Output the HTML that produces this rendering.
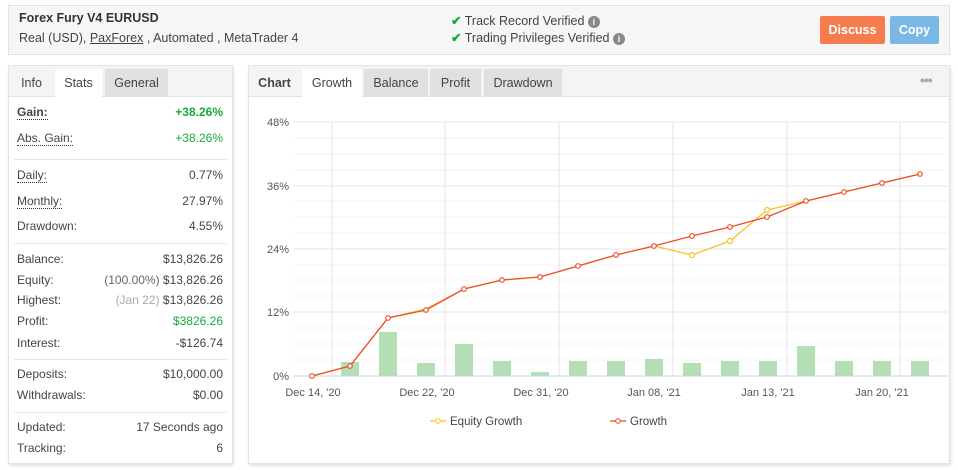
<!DOCTYPE html>
<html><head><meta charset="utf-8"><style>
*{box-sizing:border-box;margin:0;padding:0}
body{width:958px;height:470px;background:#fff;font-family:"Liberation Sans",sans-serif;font-size:12px;color:#333;position:relative;overflow:hidden}
.a{position:absolute}
.box{position:absolute;border:1px solid #e3e3e3}
.tab{position:absolute;top:69px;height:28px;line-height:28px;text-align:center;font-size:12.5px;color:#444}
.row{position:absolute;left:17px;width:206px;font-size:12px;color:#444}
.row .v{position:absolute;right:0;top:0}
.u{border-bottom:1px dotted #333}
.sep{position:absolute;left:14px;width:213px;height:1px;background:#e5e5e5}
.g{color:#1aaa3c}
</style></head><body>
<div class="box" style="left:8px;top:5px;width:942px;height:50px;background:#f6f6f6"></div>
<div class="a" style="left:19px;top:11px;font-weight:bold;font-size:12.5px;color:#333">Forex Fury V4 EURUSD</div>
<div class="a" style="left:19px;top:31px;font-size:12.5px;color:#444">Real (USD), <span style="text-decoration:underline">PaxForex</span> , Automated , MetaTrader 4</div>
<div class="a" style="left:451px;top:13px;font-size:12.5px;color:#444"><span style="color:#1aaa3c;font-weight:bold">✔</span> Track Record Verified <span style="display:inline-block;width:12px;height:12px;border-radius:6px;background:#888;color:#fff;font-size:9px;line-height:12px;text-align:center;font-weight:bold">i</span></div>
<div class="a" style="left:451px;top:30px;font-size:12.5px;color:#444"><span style="color:#1aaa3c;font-weight:bold">✔</span> Trading Privileges Verified <span style="display:inline-block;width:12px;height:12px;border-radius:6px;background:#888;color:#fff;font-size:9px;line-height:12px;text-align:center;font-weight:bold">i</span></div>
<div class="a" style="left:820px;top:16px;width:65px;height:28px;background:#f47c4e;color:#fff;font-weight:bold;line-height:28px;text-align:center;font-size:12.5px;border-radius:2px">Discuss</div>
<div class="a" style="left:890px;top:16px;width:49px;height:28px;background:#7ab9e6;color:#fff;font-weight:bold;line-height:28px;text-align:center;font-size:12.5px;border-radius:2px">Copy</div>

<div class="box" style="left:8px;top:65px;width:225px;height:399px;box-shadow:1px 2px 3px rgba(0,0,0,.12)"></div>
<div class="a" style="left:9px;top:66px;width:223px;height:31px;background:#f4f4f4;border-bottom:1px solid #e3e3e3"></div>
<div class="tab" style="left:9px;width:45px">Info</div>
<div class="tab" style="left:55px;width:47px;background:#fff;height:29px">Stats</div>
<div class="tab" style="left:105px;width:63px;background:#e0e0e0">General</div>
<div class="row" style="top:105px"><b class="u">Gain:</b><span class="v g" style="font-weight:bold">+38.26%</span></div>
<div class="row" style="top:131px"><span class="u">Abs. Gain:</span><span class="v g">+38.26%</span></div>
<div class="sep" style="top:159px"></div>
<div class="row" style="top:168px"><span class="u">Daily:</span><span class="v">0.77%</span></div>
<div class="row" style="top:194px"><span class="u">Monthly:</span><span class="v">27.97%</span></div>
<div class="row" style="top:219px">Drawdown:<span class="v">4.55%</span></div>
<div class="sep" style="top:243px"></div>
<div class="row" style="top:252px">Balance:<span class="v">$13,826.26</span></div>
<div class="row" style="top:273px">Equity:<span class="v"><span style="color:#666">(100.00%)</span> $13,826.26</span></div>
<div class="row" style="top:293px">Highest:<span class="v"><span style="color:#aaa">(Jan 22)</span> $13,826.26</span></div>
<div class="row" style="top:314px">Profit:<span class="v g">$3826.26</span></div>
<div class="row" style="top:336px">Interest:<span class="v">-$126.74</span></div>
<div class="sep" style="top:359px"></div>
<div class="row" style="top:367px">Deposits:<span class="v">$10,000.00</span></div>
<div class="row" style="top:388px">Withdrawals:<span class="v">$0.00</span></div>
<div class="sep" style="top:412px"></div>
<div class="row" style="top:420px">Updated:<span class="v">17 Seconds ago</span></div>
<div class="row" style="top:441px">Tracking:<span class="v">6</span></div>

<div class="box" style="left:248px;top:65px;width:702px;height:399px;box-shadow:1px 2px 3px rgba(0,0,0,.12)"></div>
<div class="a" style="left:249px;top:66px;width:700px;height:31px;background:#f4f4f4;border-bottom:1px solid #e3e3e3"></div>
<div class="tab" style="left:249px;width:51px;font-weight:bold">Chart</div>
<div class="tab" style="left:302px;width:60px;background:#fff;height:29px">Growth</div>
<div class="tab" style="left:364px;width:64px;background:#e0e0e0">Balance</div>
<div class="tab" style="left:430px;width:51px;background:#e0e0e0">Profit</div>
<div class="tab" style="left:484px;width:78px;background:#e0e0e0">Drawdown</div>
<div class="a" style="left:920px;top:72px;color:#aaa;font-size:14px;font-weight:bold;letter-spacing:-1px">•••</div>

<svg class="a" style="left:0;top:0" width="958" height="470" font-family="Liberation Sans,sans-serif">
<g stroke="#f3f3f3">
<line x1="293" x2="948" y1="138" y2="138"/><line x1="293" x2="948" y1="154" y2="154"/><line x1="293" x2="948" y1="170" y2="170"/>
<line x1="293" x2="948" y1="201" y2="201"/><line x1="293" x2="948" y1="217" y2="217"/><line x1="293" x2="948" y1="233" y2="233"/>
<line x1="293" x2="948" y1="265" y2="265"/><line x1="293" x2="948" y1="280" y2="280"/><line x1="293" x2="948" y1="296" y2="296"/>
<line x1="293" x2="948" y1="328" y2="328"/><line x1="293" x2="948" y1="344" y2="344"/><line x1="293" x2="948" y1="360" y2="360"/>
</g>
<g stroke="#e4e4e4">
<line x1="293" x2="948" y1="122" y2="122"/><line x1="293" x2="948" y1="186" y2="186"/><line x1="293" x2="948" y1="249" y2="249"/><line x1="293" x2="948" y1="312" y2="312"/>
<line x1="332" x2="332" y1="122" y2="376"/><line x1="445" x2="445" y1="122" y2="376"/><line x1="559" x2="559" y1="122" y2="376"/><line x1="673" x2="673" y1="122" y2="376"/><line x1="787" x2="787" y1="122" y2="376"/><line x1="900" x2="900" y1="122" y2="376"/>
</g>
<g fill="#b4dfb5">
<rect x="341" y="362" width="18" height="14"/><rect x="379" y="332" width="18" height="44"/><rect x="417" y="363" width="18" height="13"/><rect x="455" y="344" width="18" height="32"/><rect x="493" y="361" width="18" height="15"/><rect x="531" y="372" width="18" height="4"/><rect x="569" y="361" width="18" height="15"/><rect x="607" y="361" width="18" height="15"/><rect x="645" y="359" width="18" height="17"/><rect x="683" y="363" width="18" height="13"/><rect x="721" y="361" width="18" height="15"/><rect x="759" y="361" width="18" height="15"/><rect x="797" y="346" width="18" height="30"/><rect x="835" y="361" width="18" height="15"/><rect x="873" y="361" width="18" height="15"/><rect x="911" y="361" width="18" height="15"/>
</g>
<line x1="293" x2="948" y1="376" y2="376" stroke="#c8d4e6"/>
<g font-size="11" fill="#555" text-anchor="end">
<text x="289" y="126">48%</text><text x="289" y="190">36%</text><text x="289" y="253">24%</text><text x="289" y="316">12%</text><text x="289" y="380">0%</text>
</g>
<g font-size="11" fill="#555" text-anchor="middle">
<text x="313" y="396">Dec 14, '20</text><text x="427" y="396">Dec 22, '20</text><text x="541" y="396">Dec 31, '20</text><text x="654" y="396">Jan 08, '21</text><text x="768" y="396">Jan 13, '21</text><text x="882" y="396">Jan 20, '21</text>
</g>
<polyline fill="none" stroke="#f7c325" stroke-width="1.3" points="312,376 350,366 388,318 426,309 464,289 502,280 540,277 578,266 616,255 654,246 692,255 730,241 767,210 806,201 844,192 882,183 920,174"/>
<polyline fill="none" stroke="#ee4d2d" stroke-width="1.3" points="312,376 350,366 388,318 426,310 464,289 502,280 540,277 578,266 616,255 654,246 692,236 730,227 767,217 806,201 844,192 882,183 920,174"/>
<g fill="#fff" stroke="#f7c325" stroke-width="1.2"><circle cx="692" cy="255" r="2.5"/><circle cx="730" cy="241" r="2.5"/><circle cx="767" cy="210" r="2.5"/></g>
<g fill="#fff" stroke="#ee4d2d" stroke-width="1.2">
<circle cx="312" cy="376" r="2.3"/><circle cx="350" cy="366" r="2.3"/><circle cx="388" cy="318" r="2.3"/><circle cx="426" cy="310" r="2.3"/><circle cx="464" cy="289" r="2.3"/><circle cx="502" cy="280" r="2.3"/><circle cx="540" cy="277" r="2.3"/><circle cx="578" cy="266" r="2.3"/><circle cx="616" cy="255" r="2.3"/><circle cx="654" cy="246" r="2.3"/><circle cx="692" cy="236" r="2.3"/><circle cx="730" cy="227" r="2.3"/><circle cx="767" cy="217" r="2.3"/><circle cx="806" cy="201" r="2.3"/><circle cx="844" cy="192" r="2.3"/><circle cx="882" cy="183" r="2.3"/><circle cx="920" cy="174" r="2.3"/>
</g>
<line x1="430" x2="446" y1="421" y2="421" stroke="#f7c325" stroke-width="1.3"/><circle cx="438" cy="421" r="2.3" fill="#fff" stroke="#f7c325"/>
<text x="450" y="425" font-size="11.5" fill="#444">Equity Growth</text>
<line x1="610" x2="626" y1="421" y2="421" stroke="#ee4d2d" stroke-width="1.3"/><circle cx="618" cy="421" r="2.3" fill="#fff" stroke="#ee4d2d"/>
<text x="630" y="425" font-size="11.5" fill="#444">Growth</text>
</svg>
</body></html>
